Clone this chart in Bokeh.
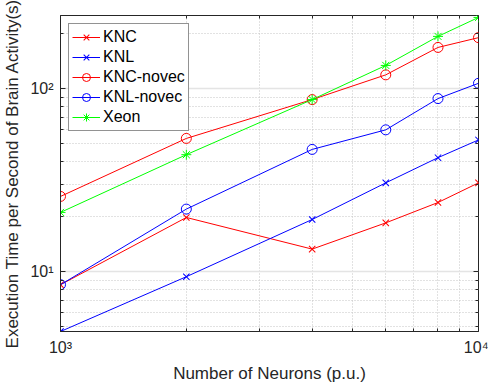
from bokeh.plotting import figure
from bokeh.models import (FixedTicker, LogAxis, Range1d, Legend, LegendItem,
                          CustomJSTickFormatter)
from bokeh.embed import file_html
from bokeh.resources import INLINE

# ---- data ----
neurons = [1000, 2000, 4000, 6000, 8000, 10000]
knc = [8.5, 19.8, 13.3, 18.5, 23.9, 30.6]
knl = [4.72, 9.4, 19.3, 30.6, 42.0, 52.5]
knc_novec = [25.8, 53.5, 87.2, 119, 168, 190]
knl_novec = [8.5, 22.0, 46.6, 59.6, 88.3, 107]
xeon = [21.1, 43.6, 87.2, 134, 193, 245]

x_major = [1000, 10000]
x_minor = [2000, 3000, 4000, 5000, 6000, 7000, 8000, 9000]
y_major = [10, 100]
y_minor = [5, 6, 7, 8, 9, 20, 30, 40, 50, 60, 70, 80, 90, 200]

series = [
    ("KNC", knc, "#ff0000", "x"),
    ("KNL", knl, "#0000ff", "x"),
    ("KNC-novec", knc_novec, "#ff0000", "circle"),
    ("KNL-novec", knl_novec, "#0000ff", "circle"),
    ("Xeon", xeon, "#00ff00", "asterisk"),
]

FONT = "Liberation Sans"
DARK = "#262626"

p = figure(width=488, height=385, x_axis_type="log", y_axis_type="log",
           x_range=Range1d(1000, 10000), y_range=Range1d(4.72, 251),
           output_backend="svg", toolbar_location=None,
           min_border_left=55, min_border_right=10, min_border_top=15,
           min_border_bottom=51)
p.background_fill_color = "white"
p.border_fill_color = "white"
p.outline_line_color = DARK
p.outline_line_width = 1

sup = CustomJSTickFormatter(code="""
const e = Math.round(Math.log10(tick));
const s = {'0':'\u2070','1':'\u00b9','2':'\u00b2','3':'\u00b3','4':'\u2074','5':'\u2075'};
return '10' + String(e).split('').map(c => s[c]).join('');
""")

xt = FixedTicker(ticks=x_major, minor_ticks=x_minor)
yt = FixedTicker(ticks=y_major, minor_ticks=y_minor)

for ax, t in ((p.xaxis[0], xt), (p.yaxis[0], yt)):
    ax.ticker = t
    ax.formatter = sup
    ax.major_tick_in = 5
    ax.major_tick_out = 0
    ax.minor_tick_in = 3
    ax.minor_tick_out = 0
    ax.major_tick_line_color = DARK
    ax.minor_tick_line_color = DARK
    ax.axis_line_color = DARK
    ax.major_label_text_font = FONT
    ax.major_label_text_font_size = "16px"
    ax.major_label_text_color = DARK
    ax.axis_label_text_font = FONT
    ax.axis_label_text_font_size = "17px"
    ax.axis_label_text_font_style = "normal"
    ax.axis_label_text_color = DARK

p.xaxis.axis_label = "Number of Neurons (p.u.)"
p.yaxis.axis_label = "Execution Time per Second of Brain Activity(s)"
p.xaxis.major_label_standoff = 7
p.xaxis.axis_label_standoff = 5
p.yaxis.major_label_standoff = 7
p.yaxis.axis_label_standoff = 5

p.xgrid.ticker = xt
p.ygrid.ticker = yt
for g in (p.xgrid[0], p.ygrid[0]):
    g.grid_line_color = "#e4e4e4"
    g.grid_line_width = 1.5
    g.minor_grid_line_color = "#c4c4c4"
    g.minor_grid_line_dash = "1 2"
    g.minor_grid_line_width = 1

blank = CustomJSTickFormatter(code="return '';")
for loc, t in (("above", xt), ("right", yt)):
    a = LogAxis(ticker=t, formatter=blank, major_tick_in=5, major_tick_out=0,
                minor_tick_in=3, minor_tick_out=0, major_label_standoff=0,
                major_label_text_font_size="1px", axis_line_color=None,
                major_tick_line_color=DARK, minor_tick_line_color=DARK)
    p.add_layout(a, loc)

items = []
for name, vals, color, marker in series:
    ln = p.line(neurons, vals, line_color=color, line_width=1)
    if marker == "circle":
        sc = p.scatter(neurons, vals, marker="circle", size=10, line_color=color,
                       fill_color=None, line_width=1)
    elif marker == "x":
        sc = p.scatter(neurons, vals, marker="x", size=9, line_color=color,
                       line_width=1.01)
    else:
        sc = p.scatter(neurons, vals, marker="asterisk", size=10,
                       line_color=color, fill_color=None, line_width=1)
    items.append(LegendItem(label=name, renderers=[ln, sc]))

legend = Legend(items=items, location="top_left", margin=8, padding=3,
                spacing=0, glyph_width=28, glyph_height=20, label_height=20,
                label_standoff=3, label_text_font=FONT,
                label_text_font_size="16px", label_text_color="black",
                border_line_color=DARK, border_line_width=1,
                background_fill_color="white", background_fill_alpha=1)
p.add_layout(legend)

open("out.html", "w", encoding="utf-8").write(file_html(p, INLINE))
